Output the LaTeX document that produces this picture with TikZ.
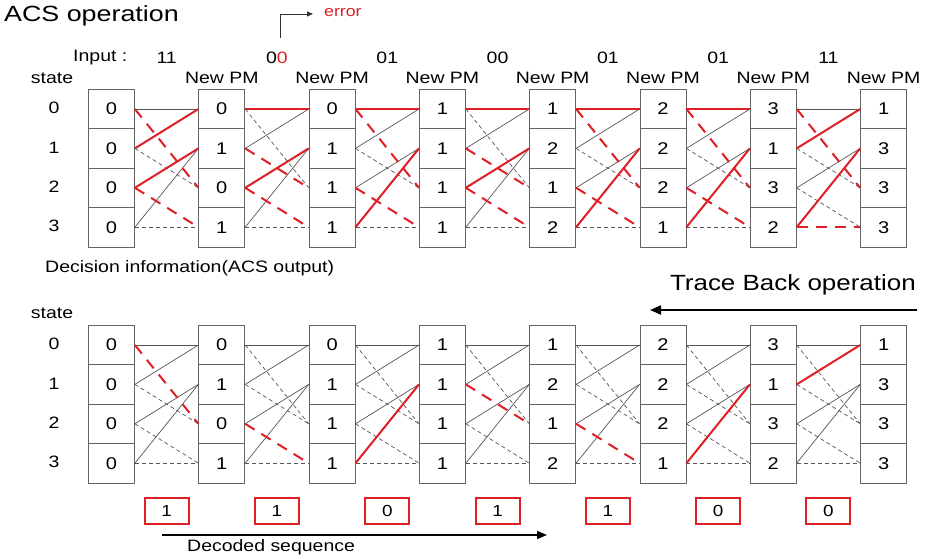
\documentclass[tikz,border=0pt]{standalone}
\usepackage{fontspec}
\setmainfont{Liberation Sans}
\usetikzlibrary{arrows.meta}
\definecolor{boxgray}{RGB}{100,100,100}
\definecolor{lgray}{RGB}{85,85,85}
\definecolor{myred}{RGB}{222,32,38}
\newcommand\sx[1]{\scalebox{1.18}[1]{#1}}
\begin{document}
\begin{tikzpicture}[x=1pt,y=-1pt,
  cell/.style={draw=boxgray, line width=0.8pt, minimum width=46pt, minimum height=39.4pt, inner sep=0pt, font=\fontsize{17}{19}\selectfont},
  rbox/.style={draw=myred, line width=2pt, minimum width=44pt, minimum height=26pt, inner sep=0pt, font=\fontsize{16}{18}\selectfont},
  gs/.style={draw=lgray, line width=0.7pt},
  gd/.style={draw=lgray, line width=0.7pt, dash pattern=on 4pt off 3pt},
  rs/.style={draw=myred, line width=2pt},
  rd/.style={draw=myred, line width=2pt, dash pattern=on 11pt off 8pt},
  lbl/.style={inner sep=0pt, font=\fontsize{16.5}{18}\selectfont},
  big/.style={inner sep=0pt, font=\fontsize{22}{24}\selectfont}]
\useasboundingbox (0,0) rectangle (927,559);
% cells
\foreach \c/\p/\q/\u/\v in {0/0/0/0/0,1/0/1/0/1,2/0/1/1/1,3/1/1/1/1,4/1/2/1/2,5/2/2/2/1,6/3/1/3/2,7/1/3/3/3}{
  \pgfmathsetmacro\xx{111.5+110.3*\c}
  \node[cell] (T\c0) at (\xx,109) {\sx{\p}};
  \node[cell] (T\c1) at (\xx,148.4) {\sx{\q}};
  \node[cell] (T\c2) at (\xx,187.8) {\sx{\u}};
  \node[cell] (T\c3) at (\xx,227.2) {\sx{\v}};
  \node[cell] (B\c0) at (\xx,345) {\sx{\p}};
  \node[cell] (B\c1) at (\xx,384.4) {\sx{\q}};
  \node[cell] (B\c2) at (\xx,423.8) {\sx{\u}};
  \node[cell] (B\c3) at (\xx,463.2) {\sx{\v}};
}
% top trellis (ACS)
\foreach \a/\b/\s in {0/0/gs,3/1/gs,1/2/gd,3/3/gd,1/0/rs,2/1/rs,0/2/rd,2/3/rd} \draw[\s] (T0\a.east) -- (T1\b.west);
\foreach \a/\b/\s in {1/0/gs,3/1/gs,0/2/gd,3/3/gd,0/0/rs,2/1/rs,1/2/rd,2/3/rd} \draw[\s] (T1\a.east) -- (T2\b.west);
\foreach \a/\b/\s in {1/0/gs,2/1/gs,1/2/gd,3/3/gd,0/0/rs,3/1/rs,0/2/rd,2/3/rd} \draw[\s] (T2\a.east) -- (T3\b.west);
\foreach \a/\b/\s in {1/0/gs,3/1/gs,0/2/gd,3/3/gd,0/0/rs,2/1/rs,1/2/rd,2/3/rd} \draw[\s] (T3\a.east) -- (T4\b.west);
\foreach \a/\b/\s in {1/0/gs,2/1/gs,1/2/gd,3/3/gd,0/0/rs,3/1/rs,0/2/rd,2/3/rd} \draw[\s] (T4\a.east) -- (T5\b.west);
\foreach \a/\b/\s in {1/0/gs,2/1/gs,1/2/gd,3/3/gd,0/0/rs,3/1/rs,0/2/rd,2/3/rd} \draw[\s] (T5\a.east) -- (T6\b.west);
\foreach \a/\b/\s in {0/0/gs,2/1/gs,1/2/gd,2/3/gd,1/0/rs,3/1/rs,0/2/rd,3/3/rd} \draw[\s] (T6\a.east) -- (T7\b.west);
% bottom trellis (trace back)
\foreach \c/\n/\ra/\rb/\rs in {0/1/0/2/rd,1/2/2/3/rd,2/3/3/1/rs,3/4/1/2/rd,4/5/2/3/rd,5/6/3/1/rs,6/7/1/0/rs}{
  \foreach \a/\b/\s in {0/0/gs,1/0/gs,2/1/gs,3/1/gs,0/2/gd,1/2/gd,2/3/gd,3/3/gd}{
    \ifnum\a\b=\ra\rb\relax\else\draw[\s] (B\c\a.east) -- (B\n\b.west);\fi
  }
  \draw[\rs] (B\c\ra.east) -- (B\n\rb.west);
}
% labels
\node[big, anchor=west] (acs) at (4,16) {\scalebox{1.22}[1]{ACS operation}};
\node[lbl, anchor=west, text=myred, font=\fontsize{15}{17}\selectfont] (err) at (324,13) {\sx{error}};
\coordinate (e0) at (280,38);
\coordinate (e1) at (313,14);
\draw[line width=0.8pt, draw=black!80, -{Triangle[length=6pt,width=5pt]}] (e0) |- (e1);
\node[lbl, anchor=west] (inp) at (73,58) {\sx{Input :}};
\foreach \i/\t in {1/11,2/0{\color{myred}0},3/01,4/00,5/01,6/01,7/11}{
  \pgfmathsetmacro\xx{111.5+110.3*\i-55.15}
  \node[lbl] (in\i) at (\xx,58) {\sx{\t}};
}
\foreach \c in {1,...,7}{
  \pgfmathsetmacro\xx{111.5+110.3*\c}
  \node[lbl] (pm\c) at (\xx,78) {\sx{New PM}};
}
\node[lbl] (st1) at (52,78) {\sx{state}};
\node[lbl] (st2) at (52,313) {\sx{state}};
\foreach \r in {0,...,3}{
  \node[lbl] (sa\r) at (54,{108+39.4*\r}) {\sx{\r}};
  \node[lbl] (sb\r) at (54,{344+39.4*\r}) {\sx{\r}};
}
\node[lbl, anchor=west] (dec) at (45,268) {\sx{Decision information(ACS output)}};
\node[big, anchor=east] (tb) at (916,285) {\sx{Trace Back operation}};
\coordinate (tb1) at (917,310);
\coordinate (tb2) at (650,310);
\draw[line width=2pt, -{Triangle[length=11pt,width=9pt]}] (tb1) -- (tb2);
% decoded bits
\foreach \i/\t in {1/1,2/1,3/0,4/1,5/1,6/0,7/0}{
  \pgfmathsetmacro\xx{111.5+110.3*\i-55.15}
  \node[rbox] (D\i) at (\xx,510.5) {\sx{\t}};
}
\coordinate (ds1) at (162,535);
\coordinate (ds2) at (547,535);
\draw[line width=1.5pt, -{Triangle[length=10pt,width=8pt]}] (ds1) -- (ds2);
\node[lbl, anchor=west] (dsq) at (187,547) {\sx{Decoded sequence}};
\end{tikzpicture}
\end{document}
